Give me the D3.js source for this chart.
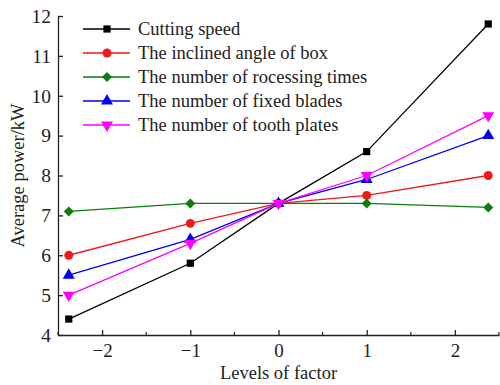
<!DOCTYPE html>
<html>
<head>
<meta charset="utf-8">
<script src="https://cdn.jsdelivr.net/npm/d3@7/dist/d3.min.js"></script>
<style>
  html, body { margin: 0; padding: 0; background: #fff; }
  svg { display: block; }
  svg text { font-family: "Liberation Serif", "Tinos", "Times New Roman", "DejaVu Serif", serif !important; }
</style>
</head>
<body>
<svg id="chart" width="500" height="385"></svg>
<script>
// Factor levels (coded), rotatable design star points at ±2.378
const levels = [-2.378, -1, 0, 1, 2.378];

const seriesNames = [
  "Cutting speed",
  "The inclined angle of box",
  "The number of rocessing times",
  "The number of fixed blades",
  "The number of tooth plates"
];

const cuttingSpeed    = [4.4, 5.8, 7.3, 8.6, 11.8];
const inclinedAngle   = [6.0, 6.8, 7.3, 7.5, 8.0];
const processingTimes = [7.1, 7.3, 7.3, 7.3, 7.2];
const fixedBlades     = [5.5, 6.4, 7.3, 7.9, 9.0];
const toothPlates     = [5.0, 6.3, 7.3, 8.0, 9.5];

const xTicks = [-2, -1, 0, 1, 2];
const xMinorTicks = [-2.5, -1.5, -0.5, 0.5, 1.5, 2.5];
const yTicks = [4, 5, 6, 7, 8, 9, 10, 11, 12];

const seriesValues = [cuttingSpeed, inclinedAngle, processingTimes, fixedBlades, toothPlates];
const colors = ["#000000", "#f01818", "#0a7d0a", "#0000ee", "#ff00ff"];
const symbols = ["square", "circle", "diamond", "triangle", "triangleDown"];

const svg = d3.select("#chart");
const plotLeft = 58, plotRight = 499, plotTop = 16, plotBottom = 335;

const x = d3.scaleLinear().domain([-2.5, 2.5]).range([plotLeft, plotRight]);
const y = d3.scaleLinear().domain([4, 12]).range([plotBottom, plotTop]);

const symbolTypes = {
  square: [d3.symbolSquare, 52, 0],
  circle: [d3.symbolCircle, 62, 0],
  diamond: [d3.symbolSquare, 50, 45],
  triangle: [d3.symbolTriangle, 62, 0],
  triangleDown: [d3.symbolTriangle, 62, 180]
};
function markerPath(name) {
  const [type, size] = symbolTypes[name];
  return d3.symbol().type(type).size(size)();
}
function markerTransform(name, px, py) {
  return `translate(${px},${py}) rotate(${symbolTypes[name][2]})`;
}

// Axes: ticks point inward
const xAxis = d3.axisBottom(x).tickValues(xTicks).tickSizeInner(-5).tickSizeOuter(0)
  .tickPadding(9).tickFormat(d => d < 0 ? "\u2212" + Math.abs(d) : d);
const gx = svg.append("g").attr("transform", `translate(0,${plotBottom})`).call(xAxis);
gx.selectAll(".tick text").attr("font-size", 19).attr("fill", "#222");
gx.selectAll("line, path").attr("stroke", "#222").attr("stroke-width", 1.3);

svg.append("g").selectAll("line").data(xMinorTicks).join("line")
  .attr("x1", d => x(d)).attr("x2", d => x(d))
  .attr("y1", plotBottom).attr("y2", plotBottom - 3)
  .attr("stroke", "#222").attr("stroke-width", 1.2);

const yAxis = d3.axisLeft(y).tickValues(yTicks).tickSizeInner(-5).tickSizeOuter(0).tickPadding(7);
const gy = svg.append("g").attr("transform", `translate(${plotLeft},0)`).call(yAxis);
gy.selectAll(".tick text").attr("font-size", 19.5).attr("fill", "#222");
gy.selectAll("line, path").attr("stroke", "#222").attr("stroke-width", 1.3);

// Axis titles
svg.append("text").attr("x", (plotLeft + plotRight) / 2).attr("y", 379)
  .attr("text-anchor", "middle").attr("font-size", 18.5).attr("fill", "#222")
  .text("Levels of factor");
svg.append("text").attr("transform", `translate(24,${(plotTop + plotBottom) / 2}) rotate(-90)`)
  .attr("text-anchor", "middle").attr("font-size", 18.5).attr("fill", "#222")
  .text("Average power/kW");

// Series lines and markers
const line = d3.line().x((d, i) => x(levels[i])).y(d => y(d));
seriesValues.forEach((vals, s) => {
  const g = svg.append("g");
  g.append("path").datum(vals).attr("d", line)
    .attr("fill", "none").attr("stroke", colors[s]).attr("stroke-width", 1.3);
  g.selectAll("path.m").data(vals).join("path").attr("class", "m")
    .attr("d", markerPath(symbols[s]))
    .attr("transform", (d, i) => markerTransform(symbols[s], x(levels[i]), y(d)))
    .attr("fill", colors[s]);
});

// Legend
const legend = svg.append("g");
seriesNames.forEach((name, s) => {
  const ly = 29 + s * 24;
  legend.append("line").attr("x1", 83).attr("x2", 130).attr("y1", ly).attr("y2", ly)
    .attr("stroke", colors[s]).attr("stroke-width", 1.3);
  legend.append("path").attr("d", markerPath(symbols[s]))
    .attr("transform", markerTransform(symbols[s], 107, ly))
    .attr("fill", colors[s]);
  legend.append("text").attr("x", 138).attr("y", ly + 6)
    .attr("font-size", 18.5).attr("fill", "#222").text(name);
});
</script>
</body>
</html>
